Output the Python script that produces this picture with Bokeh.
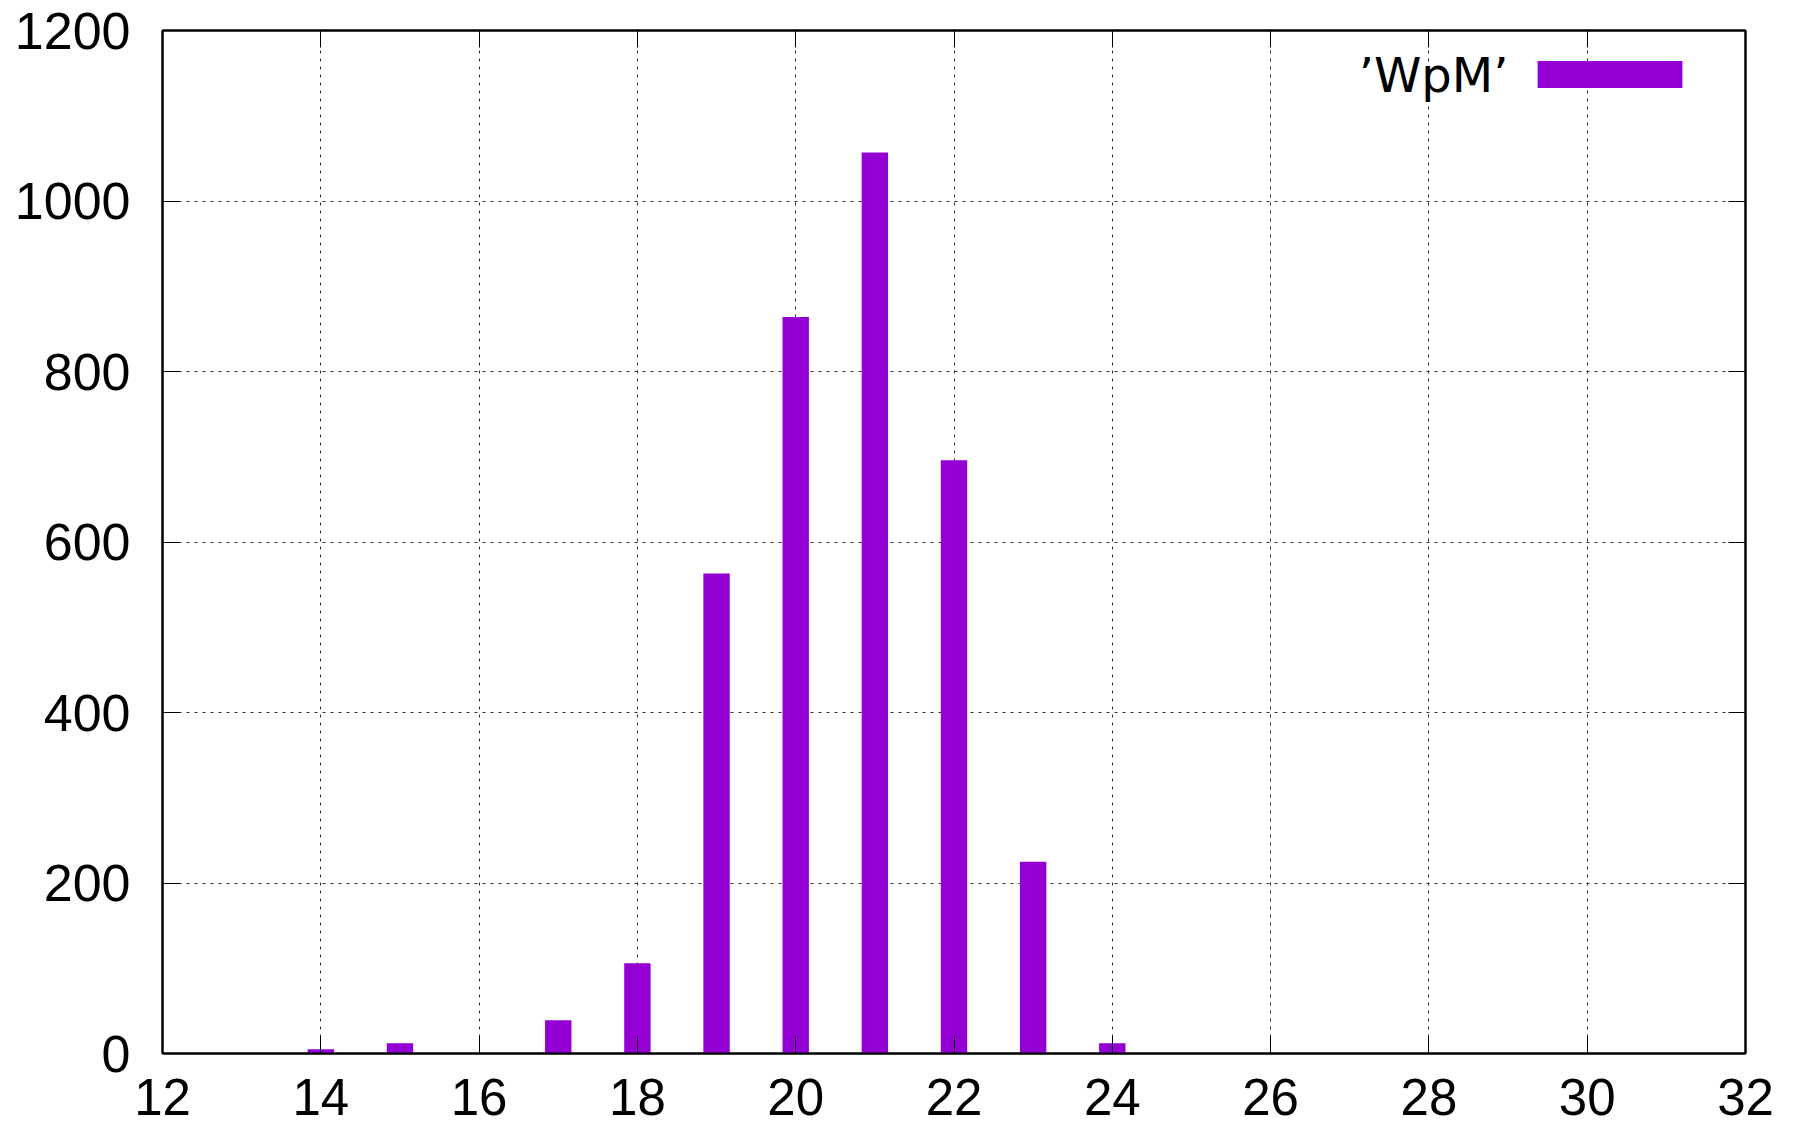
from bokeh.plotting import figure
from bokeh.models import (Range1d, FixedTicker, LinearAxis, Legend, LegendItem, Label)
from bokeh.core.properties import value
from bokeh.embed import file_html
from bokeh.resources import INLINE

# data
bins = [14, 15, 17, 18, 19, 20, 21, 22, 23, 24]
counts = [5, 12, 39, 106, 563, 864, 1057, 696, 225, 12]
x_ticks = [12, 14, 16, 18, 20, 22, 24, 26, 28, 30, 32]
y_ticks = [0, 200, 400, 600, 800, 1000, 1200]
series_name = "\u2019WpM\u2019"

FONT = "Liberation Sans"
KEY_FONT = "DejaVu Sans"
BAR = "#9400D3"

p = figure(width=1790, height=1135, output_backend="svg", toolbar_location=None,
           x_range=Range1d(12, 32), y_range=Range1d(0, 1200),
           min_border_left=162, min_border_top=30, min_border_right=45,
           min_border_bottom=82)
p.outline_line_color = "black"
p.outline_line_width = 2
p.background_fill_color = "white"
p.border_fill_color = "white"

r = p.vbar(x=bins, top=counts, width=1/3, fill_color=BAR, line_color=None)

def style_axis(ax, ticks, show_labels, size="51px"):
    ax.ticker = FixedTicker(ticks=ticks)
    ax.axis_line_color = "black"
    ax.axis_line_width = 2
    ax.major_tick_in = 17
    ax.major_tick_out = 0
    ax.major_tick_line_color = "black"
    ax.major_tick_line_width = 1
    ax.minor_tick_line_color = None
    if show_labels:
        ax.major_label_text_font = FONT
        ax.major_label_text_font_size = size
        ax.major_label_text_color = "black"
    else:
        ax.major_label_text_font_size = "0px"
        ax.major_label_standoff = 0
        ax.major_label_text_color = None

style_axis(p.xaxis[0], x_ticks, True, "51px")
p.xaxis[0].major_label_standoff = 25
style_axis(p.yaxis[0], y_ticks, True, "52px")
p.yaxis[0].major_label_standoff = 32

top_ax = LinearAxis()
style_axis(top_ax, x_ticks, False)
p.add_layout(top_ax, "above")
right_ax = LinearAxis()
style_axis(right_ax, y_ticks, False)
p.add_layout(right_ax, "right")

for g, t in ((p.xgrid[0], x_ticks), (p.ygrid[0], y_ticks)):
    g.ticker = FixedTicker(ticks=t)
    g.grid_line_color = "#303030"
    g.grid_line_dash = "3 5"
    g.grid_line_width = 1

legend = Legend(items=[LegendItem(label=value(""), renderers=[r])],
                location=(1357, 962), orientation="vertical",
                glyph_width=181, glyph_height=34, label_width=0,
                label_standoff=0, padding=0, margin=0, spacing=0,
                border_line_color=None, background_fill_color=None,
                label_text_font_size="1px")
p.add_layout(legend, "center")

lbl = Label(x=1346, y=979, x_units="screen", y_units="screen",
            text=series_name, text_font=KEY_FONT, text_font_size="48px",
            text_align="right", text_baseline="middle", text_color="black")
p.add_layout(lbl)

open("out.html", "w").write(file_html(p, INLINE))
